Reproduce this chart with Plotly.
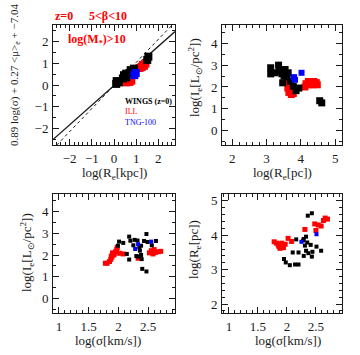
import plotly.graph_objects as go

# ---- panel 1: fundamental plane, log Re[kpc] vs combination ----
fp_wings_x = [0.1, 0.12, 0.22, 0.4, 0.45, 0.55, 0.55, 0.7, 0.75, 0.85, 0.9, 1.5, 1.55]
fp_wings_y = [0.05, 0.18, 0.12, 0.3, 0.45, 0.35, 0.52, 0.55, 0.68, 0.62, 0.75, 1.15, 1.3]
fp_ill_x = [0.55, 0.7, 0.78, 1.15, 1.25, 1.35, 1.42, 1.3]
fp_ill_y = [0.12, 0.14, 0.2, 0.78, 0.82, 0.88, 0.98, 0.92]
fp_tng_x = [0.92, 0.98]
fp_tng_y = [0.45, 0.55]
fit_x = [-2.75, 2.75]
fit_y = [-2.5, 2.45]
one_x = [-2.58, 2.62]
one_y = [-2.75, 2.75]

# ---- panel 2: log Re[pc] vs log Ie ----
rei_wings_x = [3.12, 3.12, 3.25, 3.35, 3.37, 3.54, 3.51, 3.63, 3.47, 3.7, 3.78, 3.86, 3.94, 4.55, 4.61, 3.45, 3.6]
rei_wings_y = [2.88, 2.6, 2.65, 3.0, 2.72, 2.8, 2.49, 2.65, 2.19, 2.26, 2.03, 1.83, 1.95, 1.37, 1.27, 2.6, 2.45]
rei_ill_x = [3.6, 3.62, 3.65, 3.72, 3.78, 3.68, 3.75, 4.12, 4.15, 4.22, 4.3, 4.38, 4.45, 4.48, 4.25, 4.35]
rei_ill_y = [2.2, 1.95, 1.75, 1.65, 1.7, 2.05, 1.9, 2.0, 2.15, 2.25, 2.2, 2.25, 2.2, 2.1, 2.1, 2.1]
rei_tng_x = [4.02, 3.8, 3.83]
rei_tng_y = [2.65, 2.45, 2.33]

# ---- panel 3: log sigma vs log Ie ----
si_wings_x = [2.01, 1.99, 2.08, 2.14, 2.18, 2.2, 2.18, 2.25, 2.27, 2.32, 2.34, 2.36, 2.38, 2.38,
              2.39, 2.40, 2.43, 2.47, 2.49, 2.47, 2.56, 2.63, 2.35, 2.3]
si_wings_y = [2.62, 2.43, 2.56, 2.05, 2.85, 2.66, 1.79, 2.45, 2.7, 2.67, 1.93, 2.2, 2.43, 2.0,
              1.81, 1.36, 2.65, 2.97, 2.6, 1.24, 2.45, 2.65, 2.35, 1.95]
si_ill_x = [1.78, 1.81, 1.85, 1.87, 1.89, 1.92, 1.9, 1.95, 1.97, 1.98, 1.93, 1.88, 2.02, 2.08,
            2.52, 2.55, 2.6, 2.62, 2.67, 2.71, 2.58, 2.33]
si_ill_y = [1.62, 1.62, 1.7, 1.8, 1.9, 2.0, 2.1, 2.15, 2.25, 2.35, 2.05, 1.95, 2.08, 2.05,
            2.1, 2.2, 2.25, 2.12, 2.15, 2.17, 2.05, 1.85]
si_tng_x = [2.28, 2.33, 2.55]
si_tng_y = [2.28, 2.5, 2.62]

# ---- panel 4: log sigma vs log Re[pc] ----
sr_wings_x = [2.36, 2.43, 2.16, 2.29, 2.33, 2.35, 2.41, 2.31, 2.10, 2.20, 2.29, 2.37, 2.43, 2.44,
              2.51, 2.59, 1.95, 1.98, 2.05, 2.14, 2.20, 2.33, 2.28]
sr_wings_y = [4.57, 4.64, 3.88, 3.89, 3.96, 3.79, 3.72, 3.70, 3.50, 3.50, 3.40, 3.48, 3.38, 3.52,
              3.67, 3.55, 3.31, 3.21, 3.13, 3.15, 3.15, 3.55, 3.85]
sr_ill_x = [1.78, 1.82, 1.85, 1.91, 1.97, 1.88, 1.94, 1.86, 1.92, 2.02, 2.08, 2.31, 2.48, 2.54,
            2.59, 2.50, 2.66, 2.70, 2.63]
sr_ill_y = [3.81, 3.77, 3.72, 3.77, 3.74, 3.62, 3.64, 3.68, 3.70, 3.91, 3.82, 4.17, 4.33, 4.30,
            4.27, 4.14, 4.50, 4.47, 4.43]
sr_tng_x = [2.25, 2.51]
sr_tng_y = [3.81, 4.03]

FONT = "Liberation Serif"
INK = "#1a1a1a"
RED = "#ff0000"
BLUE = "#0000ff"

fig = go.Figure()


def pts(x, y, color, size, xa, ya):
    fig.add_trace(go.Scatter(
        x=x, y=y, mode="markers", xaxis=xa, yaxis=ya,
        marker=dict(symbol="square", color=color, size=size, line=dict(width=0)),
    ))


# panel 1
fig.add_trace(go.Scatter(x=one_x, y=one_y, mode="lines", xaxis="x", yaxis="y",
                         line=dict(color=INK, width=1, dash="dot")))
fig.add_trace(go.Scatter(x=fit_x, y=fit_y, mode="lines", xaxis="x", yaxis="y",
                         line=dict(color=INK, width=1.3)))
pts(fp_ill_x, fp_ill_y, RED, 8, "x", "y")
pts(fp_wings_x, fp_wings_y, "black", 8, "x", "y")
pts(fp_tng_x, fp_tng_y, BLUE, 8, "x", "y")

# panel 2
pts(rei_ill_x, rei_ill_y, RED, 7, "x2", "y2")
pts(rei_wings_x, rei_wings_y, "black", 7, "x2", "y2")
pts(rei_tng_x, rei_tng_y, BLUE, 6, "x2", "y2")

# panel 3
pts(si_ill_x, si_ill_y, RED, 5, "x3", "y3")
pts(si_wings_x, si_wings_y, "black", 4, "x3", "y3")
pts(si_tng_x, si_tng_y, BLUE, 4, "x3", "y3")

# panel 4
pts(sr_ill_x, sr_ill_y, RED, 5, "x4", "y4")
pts(sr_wings_x, sr_wings_y, "black", 4, "x4", "y4")
pts(sr_tng_x, sr_tng_y, BLUE, 4, "x4", "y4")


def axis(domain, rng, dtick, minor, anchor):
    return dict(
        domain=domain, range=rng, dtick=dtick, tick0=0,
        ticks="inside", ticklen=6, tickwidth=1, tickcolor=INK,
        minor=dict(dtick=minor, tick0=0, ticks="inside", ticklen=3, tickwidth=1, tickcolor=INK),
        showline=True, linecolor=INK, linewidth=1, mirror="allticks",
        showgrid=False, zeroline=False, anchor=anchor,
        tickfont=dict(family=FONT, size=13, color=INK), ticklabelstandoff=1,
    )


W, H = 360, 355
colL = [53 / W, 175 / W]
colR = [222 / W, 342 / W]
rowT = [1 - 145 / H, 1 - 25 / H]
rowB = [1 - 313 / H, 1 - 194 / H]

fig.update_layout(
    width=W, height=H, margin=dict(l=0, r=0, t=0, b=0),
    paper_bgcolor="white", plot_bgcolor="white", showlegend=False,
    xaxis=axis(colL, [-2.75, 2.75], 1, 0.2, "y"),
    yaxis=axis(rowT, [-2.75, 2.75], 1, 0.5, "x"),
    xaxis2=axis(colR, [1.7, 5.2], 1, 0.2, "y2"),
    yaxis2=axis(rowT, [-0.66, 4.84], 1, 0.5, "x2"),
    xaxis3=axis(colL, [0.9, 2.95], 0.5, 0.1, "y3"),
    yaxis3=axis(rowB, [-0.68, 4.82], 1, 0.5, "x3"),
    xaxis4=axis(colR, [0.88, 2.95], 0.5, 0.1, "y4"),
    yaxis4=axis(rowB, [1.74, 5.2], 1, 0.2, "x4"),
)


def note(text, px, py, size=13, color=INK, angle=0, xanchor="center"):
    fig.add_annotation(
        text=text, x=px / W, y=1 - py / H, xref="paper", yref="paper",
        showarrow=False, textangle=angle, xanchor=xanchor, yanchor="middle",
        align="left", borderpad=0,
        font=dict(family=FONT, size=size, color=color),
    )


# labels
note("<b>z=0</b>", 64, 16, 12, RED)
note("<b>5<β<10</b>", 108, 16, 12, RED)
note("<b>log(M<sub>*</sub>)>10</b>", 67, 40, 12, RED, xanchor="left")
note("<b>WINGS (z=0)</b><br><span style='color:#ff0000'>ILL</span>"
     "<br><span style='color:#0000ff'>TNG-100</span>", 124, 112, 8, "black", xanchor="left")

# axis titles
note("log(R<sub>e</sub>[kpc])", 114, 173)
note("0.89 log(σ) + 0.27 <μ><sub>e</sub> + −7.04", 15, 75, 11, angle=-90)
note("log(R<sub>e</sub>[pc])", 282, 173)
note("log(I<sub>e</sub>[L<sub>⊙</sub>/pc<sup>2</sup>])", 195, 78, 13, angle=-90)
note("log(σ[km/s])", 108, 340)
note("log(I<sub>e</sub>[L<sub>⊙</sub>/pc<sup>2</sup>])", 27, 253, 13, angle=-90)
note("log(σ[km/s])", 288, 340)
note("log(R<sub>e</sub>[pc])", 195, 250, 13, angle=-90)

fig.write_html("out.html", config={"displayModeBar": False},
               post_script="document.body.style.margin='0px';")
